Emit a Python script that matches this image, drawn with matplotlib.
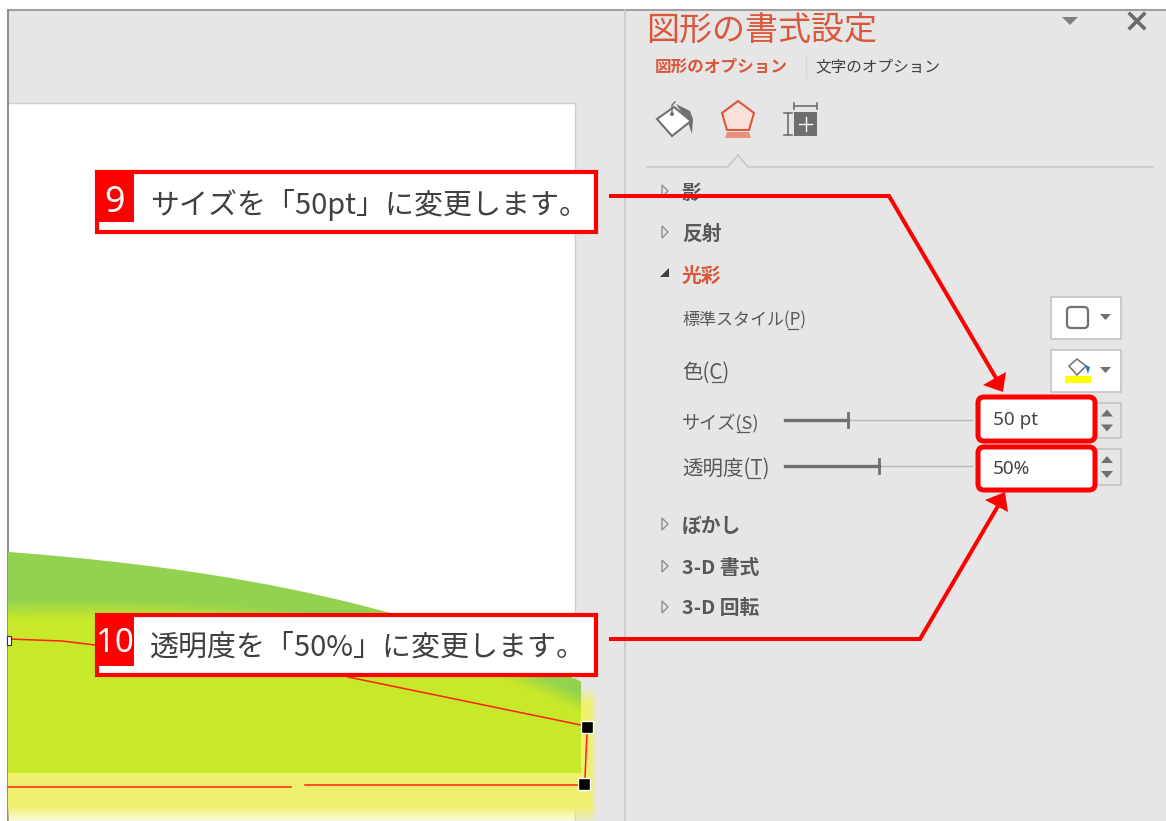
import numpy as np
import matplotlib
matplotlib.use('Agg')
import matplotlib.pyplot as plt
from matplotlib.patches import Rectangle, FancyBboxPatch, Polygon, Circle

plt.rcParams['font.family'] = ['Noto Sans CJK JP', 'DejaVu Sans']

# texts of the pane
title = '図形の書式設定'
tab_labels = ['図形のオプション', '文字のオプション']
section_labels = ['影', '反射', '光彩', 'ぼかし', '3-D 書式', '3-D 回転']
section_y = [192, 233, 275, 525, 567, 608]
field_labels = ['標準スタイル(P)', '色(C)', 'サイズ(S)', '透明度(T)']
field_y = [318, 371, 421, 467]
field_sizes = [17, 20.5, 18.2, 20.5]
# underlined access keys: x from, x to, y
field_keys = [(788, 798, 329), (712, 722, 382), (737, 749, 432), (749, 760, 478)]
field_values = ['50 pt', '50%']
slider_ends = [848, 879]
slider_y = [420, 466]

# callouts
callout_numbers = ['9', '10']
callout_texts = ['サイズを「50pt」に変更します。', '透明度を「50%」に変更します。']

# outline of the green shape
curve_x = [8, 119, 237, 316, 387, 450, 514, 581]
curve_y = [552, 562, 580, 593, 613, 632, 652, 682]
band_x = [8, 120, 237, 300, 400, 514, 581]
band_y = [610, 608, 615, 622, 640, 672, 704]

RED = '#ff0000'
ORANGE = '#d9573a'
GREY = '#595959'
BG = '#e6e6e6'


def px(size):
    return size * 0.72


fig = plt.figure(figsize=(11.66, 8.21), dpi=100)
ax = fig.add_axes([0, 0, 1, 1])
ax.set_xlim(0, 1166)
ax.set_ylim(821, 0)
ax.axis('off')

# window background and slide
ax.add_patch(Rectangle((0, 0), 1166, 821, fc='white', ec='none', zorder=0))
ax.add_patch(Rectangle((8, 10), 1158, 811, fc=BG, ec='none', zorder=0))
ax.add_patch(Rectangle((8, 103), 567, 718, fc='white', ec='none', zorder=1))
ax.plot([8, 575, 575], [103, 103, 821], color='#cfcfcf', lw=1, zorder=1)
ax.plot([8, 1166], [10, 10], color='#a0a0a0', lw=1.5, zorder=2)
ax.plot([7.5, 7.5], [10, 821], color='#909090', lw=1.5, zorder=2)
ax.plot([625, 625], [10, 821], color='#c8c8c8', lw=1.2, zorder=2)

# green shape with its glow
xx, yy = np.meshgrid(np.arange(8, 600) + 0.5, np.arange(540, 821) + 0.5)
top = np.polyval(np.polyfit(curve_x, curve_y, 3), xx)
band = np.polyval(np.polyfit(band_x, band_y, 3), xx)
t = np.clip((yy - band + 10) / 20, 0, 1)[..., None]
green = np.array([0x92, 0xd2, 0x50]) / 255
lime = np.array([0xc8, 0xe8, 0x2a]) / 255
glow = np.array([0xf0, 0xf0, 0x70]) / 255
img = np.zeros(xx.shape + (4,))
img[..., :3] = green * (1 - t) + lime * t
inside = np.clip(yy - top + 0.5, 0, 1) * (yy < 773) * (xx < 581)
glow_alpha = np.clip((821 - yy) / 18 + 0.2, 0, 1) * np.clip((598 - xx) / 8, 0, 1)
glow_alpha = glow_alpha * np.clip((yy - 687) / 16, 0, 1)
outer = ((yy >= 773) | (xx >= 581))
img[outer, :3] = glow
img[..., 3] = inside
img[outer, 3] = glow_alpha[outer]
ax.imshow(img, extent=(8, 600, 821, 540), aspect='auto', interpolation='bilinear', zorder=3)
ax.set_xlim(0, 1166)
ax.set_ylim(821, 0)

# thin selection outline and handles
outline = [([9, 62, 95], [639, 641, 645]), ([348, 581], [677, 725]),
           ([587, 585], [733, 778]), ([8, 291], [787, 787]), ([305, 578], [785, 785])]
for lx, ly in outline:
    ax.plot(lx, ly, color='#ff2010', lw=1.1, zorder=4)
for hx, hy in [(587, 727), (584, 784)]:
    ax.add_patch(Rectangle((hx - 6, hy - 6), 12, 12, fc='black', ec='white', lw=1, zorder=5))
ax.add_patch(Rectangle((7, 636), 4, 9, fc='white', ec='#333333', lw=0.8, zorder=5))

# pane header
ax.text(646, 31, title, color=ORANGE, fontsize=px(33), va='center', ha='left', zorder=6)
ax.text(655, 67, tab_labels[0], color=ORANGE, fontsize=px(16.6), fontweight='bold', va='center', zorder=6)
ax.text(815, 67, tab_labels[1], color='#404040', fontsize=px(15.6), va='center', zorder=6)
ax.plot([806, 806], [55, 78], color='#d8d8d8', lw=1, zorder=6)
ax.add_patch(Polygon([[1062, 17], [1078, 17], [1070, 25]], fc='#808080', ec='none', zorder=6))
ax.plot([1130, 1144], [14, 28], color='#6a6a6a', lw=2.6, zorder=6)
ax.plot([1130, 1144], [28, 14], color='#6a6a6a', lw=2.6, zorder=6)

# icons: bucket, pentagon, size
ax.add_patch(Polygon([[657, 119], [674, 107], [691, 121], [672, 136]], fc='white', ec='#707070', lw=1.5, zorder=6))
ax.add_patch(Polygon([[676, 104], [690, 111], [693, 119], [692, 134], [688, 122]], fc='#707070', ec='none', zorder=5.5))
ax.plot([672, 672, 675], [114, 105, 102], color='#707070', lw=1, zorder=7)
ax.add_patch(Circle((672, 114), 2, fc='#707070', ec='none', zorder=7))
ax.add_patch(Polygon([[738, 101], [754, 113], [749, 130], [727, 130], [722, 113]],
                     fc='#fbe1da', ec=ORANGE, lw=1.5, zorder=6))
ax.add_patch(Polygon([[727, 132], [749, 132], [751, 138], [725, 138]], fc='#e8907a', ec='none', zorder=6))
ax.add_patch(Rectangle((794, 112), 23, 24, fc='#6e6e6e', ec='none', zorder=6))
ax.plot([794, 817], [106, 106], color='#707070', lw=1.2, zorder=6)
for vx in (794, 817):
    ax.plot([vx, vx], [103, 109], color='#707070', lw=1.2, zorder=6)
ax.plot([788, 788], [113, 135], color='#707070', lw=1.2, zorder=6)
for vy in (113, 135):
    ax.plot([784, 792], [vy, vy], color='#707070', lw=1.2, zorder=6)
ax.plot([799, 812], [124, 124], color='white', lw=1, zorder=7)
ax.plot([805.5, 805.5], [117, 131], color='white', lw=1, zorder=7)

# separator with caret
ax.plot([647, 728, 738, 748, 1153], [167, 167, 155, 167, 167], color='#c8c8c8', lw=1.2, zorder=6)

# sections
for label, y in zip(section_labels, section_y):
    color = ORANGE if label == '光彩' else GREY
    ax.text(682, y + 1, label, color=color, fontsize=px(19.8), fontweight='bold', va='center', zorder=6)
    if label == '光彩':
        ax.add_patch(Polygon([[669, 268], [669, 277], [660, 277]], fc='#404040', ec='none', zorder=6))
    else:
        ax.add_patch(Polygon([[662, y - 7], [668, y - 1], [662, y + 5]], fc=BG, ec='#909090', lw=1, zorder=6))

# fields
for label, y, size, key in zip(field_labels, field_y, field_sizes, field_keys):
    ax.text(682, y + 2, label, color=GREY, fontsize=px(size), va='center', zorder=6)
    ax.plot(key[:2], [key[2], key[2]], color=GREY, lw=0.9, zorder=6)

# sliders
for end, y in zip(slider_ends, slider_y):
    ax.plot([end, 972], [y, y], color='#b8b8b8', lw=1, zorder=6)
    ax.plot([785, end], [y, y], color='#707070', lw=2.4, zorder=6)
    ax.plot([end, end], [y - 7, y + 7], color='#707070', lw=2, zorder=6)

# option buttons
for y0 in (297, 350):
    ax.add_patch(Rectangle((1051, y0), 70, 42, fc='white', ec='#c4c4c4', lw=1.2, zorder=6))
    ax.add_patch(Polygon([[1100, y0 + 17], [1111, y0 + 17], [1105.5, y0 + 23]], fc='#707070', ec='none', zorder=7))
ax.add_patch(FancyBboxPatch((1067, 307), 21, 21, boxstyle='round,pad=0,rounding_size=4', fc='white', ec='#707070', lw=1.6, zorder=7))
ax.add_patch(Polygon([[1069, 366], [1077, 359], [1086, 366], [1077, 375]], fc='white', ec='#707070', lw=1.1, zorder=7))
ax.add_patch(Polygon([[1085, 365], [1090, 367], [1088, 374]], fc='#2e75b6', ec='none', zorder=7))
ax.add_patch(Rectangle((1065, 376), 26, 7, fc='#ffff00', ec='none', zorder=7))

# spin boxes
for y0, y1 in [(403, 438), (449, 485)]:
    ax.add_patch(Rectangle((1090, y0), 31, y1 - y0, fc=BG, ec='#c4c4c4', lw=1.2, zorder=6))
    mid = (y0 + y1) / 2
    ax.add_patch(Polygon([[1101, mid - 4], [1113, mid - 4], [1107, mid - 11]], fc='#707070', ec='none', zorder=7))
    ax.add_patch(Polygon([[1101, mid + 4], [1113, mid + 4], [1107, mid + 11]], fc='#707070', ec='none', zorder=7))

# value fields with red frames
for value, y0, y1 in zip(field_values, (397, 447), (441, 490)):
    ax.add_patch(FancyBboxPatch((978, y0), 117, y1 - y0, boxstyle='round,pad=0,rounding_size=6',
                                fc='white', ec=RED, lw=3.6, zorder=8))
    ax.text(993, (y0 + y1) / 2 + 1, value, color='#444444', fontsize=px(19), va='center',
            family=['Noto Sans', 'DejaVu Sans'], zorder=9)

# red arrows
ax.plot([611, 889, 996], [196, 196, 378], color=RED, lw=2.9, solid_joinstyle='miter', zorder=8)
ax.add_patch(Polygon([[1003, 392], [983, 385], [1006, 372]], fc=RED, ec='none', zorder=8))
ax.plot([611, 920, 998], [639, 639, 506], color=RED, lw=2.9, solid_joinstyle='miter', zorder=8)
ax.add_patch(Polygon([[1005, 492], [985, 500], [1008, 512]], fc=RED, ec='none', zorder=8))

# callout boxes
for num, text, y0, y1, sq_end, num_y in zip(callout_numbers, callout_texts, (172, 615), (232, 675), (222, 666), (203, 644)):
    ax.add_patch(Rectangle((97, y0), 499, y1 - y0, fc='white', ec=RED, lw=3, zorder=10))
    ax.add_patch(Rectangle((95, y0 - 2), 39, sq_end - y0 + 2, fc=RED, ec='none', zorder=11))
    size = 36 if num == '9' else 33
    ax.text(114.5, num_y, num, color='white', fontsize=px(size), ha='center', va='center',
            family=['Noto Sans', 'DejaVu Sans'], zorder=12)
    ax.text(150, (y0 + y1) / 2 + 3, text, color='#404040', fontsize=px(29), va='center', zorder=12)

plt.savefig('out.png', dpi=100)
